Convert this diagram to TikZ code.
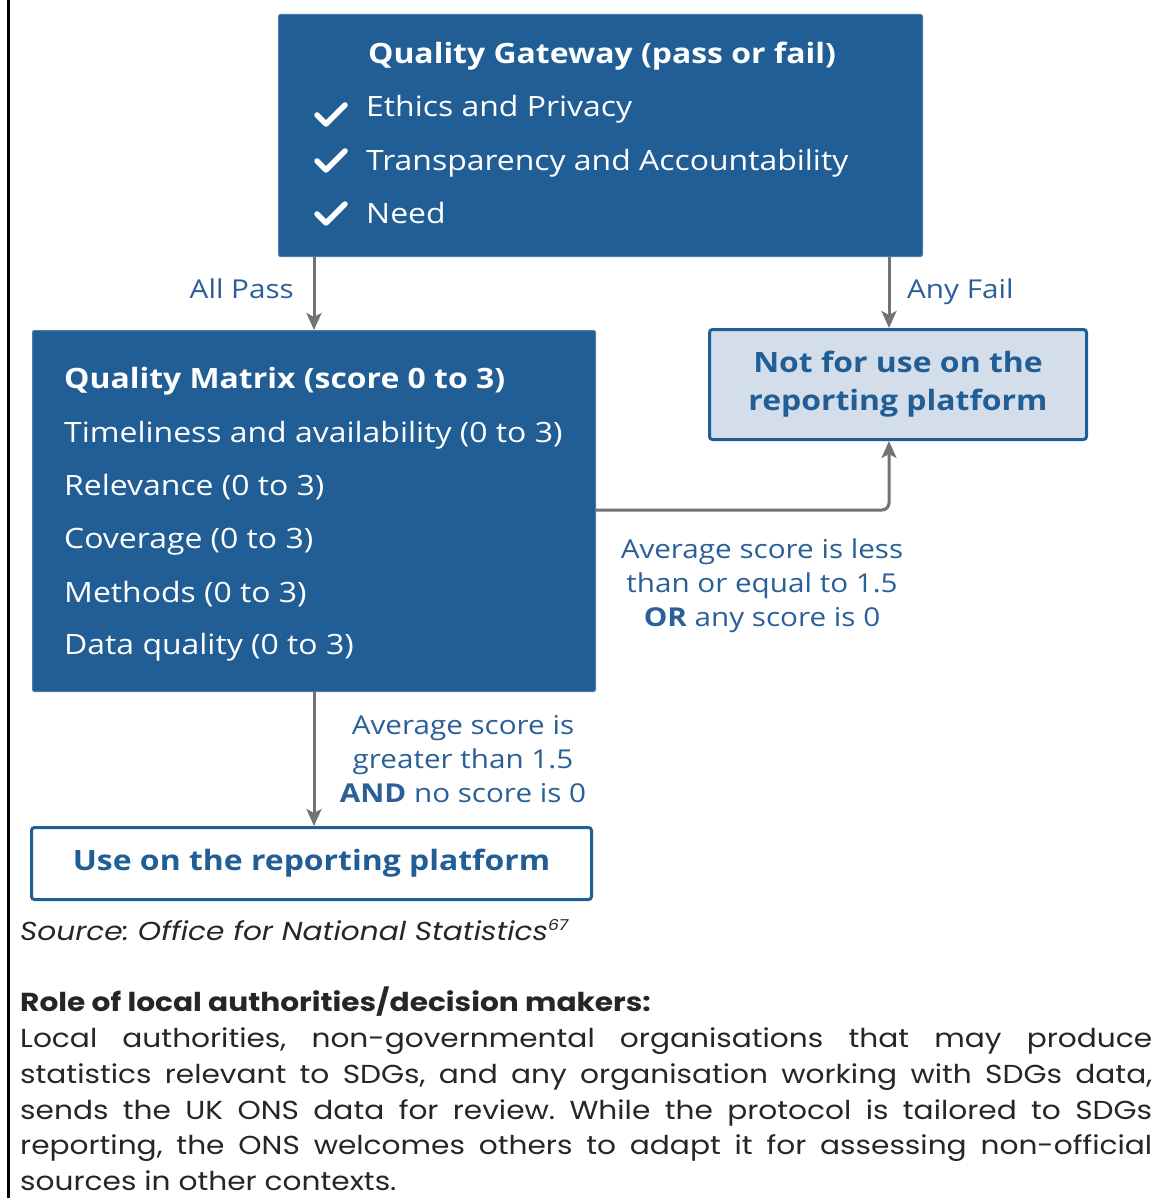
\documentclass[tikz,border=0pt]{standalone}
\usepackage{fontspec}
\setmainfont{Open Sans}[FakeStretch=1.14]
\newfontfamily\bodyfont{Poppins}[FakeStretch=1.14]
\usetikzlibrary{arrows.meta}
\definecolor{boxblue}{HTML}{215E95}
\definecolor{lightfill}{HTML}{D3DEEA}
\definecolor{labelblue}{HTML}{2A5F98}
\definecolor{arrowgray}{HTML}{737373}
\definecolor{bodygray}{HTML}{262626}
\tikzset{
  darkbox/.style={draw=boxblue!80!white, line width=1pt, fill=boxblue, rounded corners=2pt, inner sep=0pt},
  outcomebox/.style={draw=boxblue, line width=3pt, rounded corners=3pt, inner sep=0pt, text=boxblue, align=center,
    font=\bfseries\fontsize{28}{38}\selectfont},
  boxtitle/.style={text=white, anchor=base west, inner sep=0pt, font=\bfseries\fontsize{28}{34}\selectfont},
  boxitem/.style={text=white, anchor=base west, inner sep=0pt, font=\fontsize{28}{34}\selectfont},
  flowlabel/.style={text=labelblue, inner sep=0pt, font=\fontsize{26}{34}\selectfont},
  condlabel/.style={text=labelblue, inner sep=0pt, align=center, font=\fontsize{26}{34}\selectfont},
  arr/.style={draw=arrowgray, line width=3pt, -{Stealth[width=15pt,length=17pt,inset=4pt]}},
  tick/.style={draw=white, line width=5.5pt, line cap=round, line join=round},
  bodytext/.style={text=bodygray, inner sep=0pt, anchor=base west, font=\bodyfont\frenchspacing\fontsize{26}{36}\selectfont},
}
\begin{document}
\begin{tikzpicture}[x=1pt,y=-1pt]
\useasboundingbox (0,0) rectangle (1156,1198);
\fill[white] (0,0) rectangle (1156,1198);
% left margin rule
\draw[line width=3pt, black] (8,0) -- (8,1198);

% boxes
\node[darkbox, minimum width=644pt, minimum height=242pt] (gate) at (600.5,135.5) {};
\node[darkbox, minimum width=563pt, minimum height=361pt] (matrix) at (314,511) {};
\node[outcomebox, fill=lightfill, minimum width=377pt, minimum height=110pt] (nfu) at (898,384.5)
  {Not for use on the\\reporting platform};
\node[outcomebox, fill=white, minimum width=560pt, minimum height=72pt] (use) at (311.5,863.5)
  {Use on the reporting platform};

% gateway text
\node[boxtitle, anchor=base] (gtitle) at (602,64) {Quality Gateway (pass or fail)};
\node[boxitem] (g1) at (366,117) {Ethics and Privacy};
\node[boxitem] (g2) at (366,171) {Transparency and Accountability};
\node[boxitem] (g3) at (366,224) {Need};
\draw[tick] (317,115) -- (326,124) -- (345,105);
\draw[tick] (317,161) -- (326,170) -- (345,151);
\draw[tick] (317,214) -- (326,223) -- (345,204);

% matrix text
\node[boxtitle] (mtitle) at (64,388) {Quality Matrix (score 0 to 3)};
\node[boxitem] (m1) at (64,442) {Timeliness and availability (0 to 3)};
\node[boxitem] (m2) at (64,495) {Relevance (0 to 3)};
\node[boxitem] (m3) at (64,548) {Coverage (0 to 3)};
\node[boxitem] (m4) at (64,602) {Methods (0 to 3)};
\node[boxitem] (m5) at (64,654) {Data quality (0 to 3)};

% connectors
\coordinate (ax) at (314,0);
\coordinate (bx) at (889,0);
\coordinate (corner) at (889,510);
\draw[arr] (gate.south -| ax) -- (matrix.north -| ax);
\draw[arr] (gate.south -| bx) -- (nfu.north -| bx);
\draw[arr, rounded corners=7pt] (matrix.east |- corner) -- (corner) -- (nfu.south -| corner);
\draw[arr] (matrix.south -| ax) -- (use.north -| ax);

% labels
\node[flowlabel, anchor=base east] (lpass) at (294,298) {All Pass};
\node[flowlabel, anchor=base west] (lfail) at (907,298) {Any Fail};
\node[condlabel] (lless) at (762,586) {Average score is less\\than or equal to 1.5\\\textbf{OR} any score is 0};
\node[condlabel] (lgreater) at (463,759) {Average score is\\greater than 1.5\\\textbf{AND} no score is 0};

% source and body text
\node[bodytext] (src) at (20,940) {\itshape Source: Office for National Statistics\textsuperscript{\fontsize{15}{15}\selectfont 67}};
\node[bodytext] (role) at (20,1011) {\bfseries Role of local authorities/decision makers:};
\node[bodytext] (p1) at (20,1047) {\makebox[1132pt][s]{Local authorities, non-governmental organisations that may produce}};
\node[bodytext] (p2) at (20,1083) {\makebox[1132pt][s]{statistics relevant to SDGs, and any organisation working with SDGs data,}};
\node[bodytext] (p3) at (20,1119) {\makebox[1132pt][s]{sends the UK ONS data for review. While the protocol is tailored to SDGs}};
\node[bodytext] (p4) at (20,1154) {\makebox[1132pt][s]{reporting, the ONS welcomes others to adapt it for assessing non-official}};
\node[bodytext] (p5) at (20,1190) {sources in other contexts.};
\end{tikzpicture}
\end{document}
